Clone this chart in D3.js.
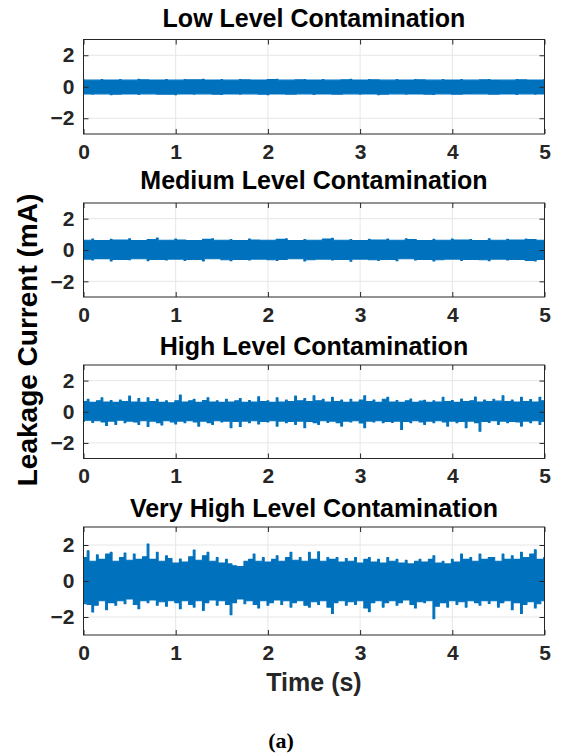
<!DOCTYPE html>
<html>
<head>
<meta charset="utf-8">
<script src="https://cdn.jsdelivr.net/npm/d3@7"></script>
<style>
  body { margin: 0; background: #fff; }
  svg { display: block; }
  text { font-family: "Liberation Sans", Arial, Helvetica, sans-serif; }
</style>
</head>
<body>
<div id="chart"></div>
<script>
// panel titles and ticks
const titles = ["Low Level Contamination", "Medium Level Contamination",
                "High Level Contamination", "Very High Level Contamination"];
const xTicks = [0, 1, 2, 3, 4, 5];
const yTicks = [-2, 0, 2];

// signal envelopes (mA), evenly spaced over 0..5 s
const lowUpper = [0.44,0.42,0.46,0.43,0.45,0.42,0.47,0.44,0.43,0.46,0.42,0.45,0.44,0.47,0.43,0.45,0.42,0.46,0.44,0.43,
  0.45,0.47,0.42,0.44,0.46,0.43,0.45,0.42,0.44,0.47,0.43,0.45,0.44,0.42,0.46,0.43,0.45,0.44,0.42,0.46,
  0.43,0.45,0.42,0.44,0.46,0.43,0.42,0.45,0.44,0.43,0.45];
const lowLower = [-0.46,-0.48,-0.45,-0.5,-0.47,-0.46,-0.49,-0.45,-0.48,-0.47,-0.5,-0.46,-0.48,-0.45,-0.47,-0.49,-0.46,-0.48,-0.45,-0.47,
  -0.5,-0.46,-0.48,-0.47,-0.45,-0.49,-0.46,-0.48,-0.47,-0.45,-0.48,-0.46,-0.5,-0.47,-0.45,-0.48,-0.46,-0.47,-0.49,-0.45,
  -0.47,-0.48,-0.46,-0.45,-0.48,-0.47,-0.46,-0.49,-0.45,-0.47,-0.46];

const medUpper = [0.62,0.7,0.6,0.68,0.64,0.72,0.6,0.66,0.76,0.62,
  0.7,0.64,0.6,0.68,0.72,0.62,0.66,0.6,0.7,0.64,
  0.62,0.68,0.72,0.6,0.66,0.62,0.7,0.74,0.62,0.66,
  0.6,0.68,0.64,0.7,0.62,0.72,0.66,0.6,0.68,0.62,
  0.7,0.64,0.66,0.6,0.72,0.62,0.68,0.64,0.7,0.66,0.62];
const medLower = [-0.58,-0.64,-0.55,-0.7,-0.6,-0.62,-0.56,-0.68,-0.6,-0.64,
  -0.58,-0.66,-0.6,-0.7,-0.56,-0.62,-0.68,-0.6,-0.64,-0.58,
  -0.62,-0.66,-0.6,-0.56,-0.7,-0.62,-0.58,-0.64,-0.6,-0.72,
  -0.58,-0.62,-0.66,-0.6,-0.68,-0.56,-0.64,-0.6,-0.7,-0.62,
  -0.58,-0.66,-0.6,-0.62,-0.68,-0.58,-0.64,-0.6,-0.66,-0.7,-0.6];

const highUpper = [0.65,0.8,0.6,0.7,0.9,0.62,0.72,0.6,0.75,0.65,
  1.0,0.62,0.85,0.6,0.9,0.65,0.8,0.6,0.7,0.58,
  0.7,1.07,0.62,0.7,0.8,0.6,0.72,0.9,0.62,0.7,
  0.6,0.8,0.62,0.7,0.85,0.6,0.72,0.62,0.96,0.65,
  0.7,0.6,0.9,0.62,0.75,0.65,1.0,0.7,0.85,0.65,
  1.03,0.7,0.8,0.62,0.92,0.65,0.75,0.6,0.8,0.62,
  0.75,1.03,0.65,0.75,0.6,0.8,0.92,0.62,0.72,0.6,
  0.7,0.81,0.6,0.68,0.74,0.6,0.7,0.62,0.92,0.65,
  0.72,0.6,0.81,0.65,0.7,0.95,0.62,0.75,0.65,0.8,
  0.68,1.03,0.65,0.75,0.62,0.92,0.65,0.78,0.62,0.92,0.7];
const highLower = [-0.62,-0.55,-0.68,-0.58,-0.65,-0.88,-0.6,-0.81,-0.55,-0.7,
  -0.6,-0.65,-0.81,-0.58,-0.95,-0.6,-0.7,-0.85,-0.58,-0.66,
  -0.78,-0.6,-0.7,-0.58,-0.65,-0.92,-0.6,-0.7,-0.81,-0.58,
  -0.66,-0.6,-1.03,-0.62,-0.95,-0.6,-0.7,-0.58,-0.78,-0.62,
  -0.66,-0.58,-0.92,-0.6,-0.7,-0.62,-0.81,-0.6,-1.03,-0.62,
  -0.7,-0.81,-0.58,-0.68,-0.6,-0.7,-0.92,-0.6,-0.66,-0.58,
  -0.72,-1.03,-0.6,-0.66,-0.58,-0.7,-0.62,-0.68,-0.6,-1.14,
  -0.62,-0.7,-0.58,-0.66,-0.81,-0.6,-0.7,-0.58,-0.66,-0.92,
  -0.6,-0.7,-0.62,-1.03,-0.6,-0.7,-1.25,-0.62,-0.68,-0.58,
  -0.81,-0.6,-0.7,-0.62,-0.66,-0.92,-0.6,-0.7,-0.58,-0.81,-0.62];

const vhighUpper = [1.3,1.68,1.1,1.45,1.2,1.5,1.6,1.1,1.3,1.55,
  1.15,1.5,1.2,1.35,2.05,1.2,1.6,1.1,1.4,1.25,
  1.0,1.22,1.05,1.35,1.72,1.15,1.4,1.6,1.1,1.3,
  1.0,1.2,0.95,0.85,0.8,1.1,1.2,1.5,1.1,1.3,
  1.05,1.2,1.4,1.1,1.3,1.6,1.15,1.3,1.1,1.6,
  1.2,1.62,1.1,1.3,1.2,1.3,1.05,1.25,1.1,1.3,
  1.0,1.2,1.3,1.05,1.2,1.0,1.3,1.1,1.2,1.0,
  1.15,0.95,1.1,1.2,1.05,1.2,1.4,1.0,1.1,0.95,
  1.2,1.05,1.5,1.2,1.3,1.1,1.5,1.2,1.3,1.3,
  1.1,1.5,1.2,1.4,1.2,1.6,1.3,1.5,1.74,1.2,1.3];
const vhighLower = [-1.26,-1.3,-1.72,-1.35,-1.1,-1.6,-1.2,-1.35,-1.1,-1.26,
  -1.0,-1.3,-1.54,-1.1,-1.2,-1.05,-1.35,-1.15,-1.4,-1.1,
  -1.2,-1.54,-1.1,-1.3,-1.45,-1.1,-1.63,-1.2,-1.05,-1.35,
  -1.1,-1.3,-1.87,-1.2,-1.0,-1.26,-1.1,-1.3,-1.5,-1.1,
  -1.35,-1.2,-1.05,-1.3,-1.1,-1.45,-1.2,-1.1,-1.35,-1.45,
  -1.15,-1.3,-1.1,-1.45,-1.8,-1.2,-1.1,-1.35,-1.15,-1.3,
  -1.1,-1.5,-1.7,-1.2,-1.1,-1.45,-1.2,-1.1,-1.35,-1.2,
  -1.05,-1.3,-1.5,-1.15,-1.2,-1.1,-2.1,-1.4,-1.2,-1.45,
  -1.1,-1.3,-1.15,-1.45,-1.1,-1.2,-1.35,-1.1,-1.25,-1.1,
  -1.45,-1.2,-1.1,-1.6,-1.2,-1.8,-1.3,-1.15,-1.5,-1.26,-1.1];

const uppers = [lowUpper, medUpper, highUpper, vhighUpper];
const lowers = [lowLower, medLower, highLower, vhighLower];

// layout
const width = 563, height = 755;
const left = 83.5, right = 544.5;
const boxes = [[39.5, 134], [203, 297], [365, 458.5], [527, 635]];
const titleY = [27, 189, 355, 517];
const blue = "#0072bd", ink = "#262626";

const svg = d3.select("#chart").append("svg")
    .attr("width", width)
    .attr("height", height);

const x = d3.scaleLinear().domain([0, 5]).range([left, right]);

// outline of the noisy band: each sample is a thin spike standing on the
// lower of its neighbours, so the edge stays ragged
function bandOutline(up, lo, y) {
  const n = up.length, w = 0.9;
  const px = up.map((d, i) => x(i * 5 / (n - 1)));
  const nb = (arr, i, j, f) => f(arr[Math.max(0, Math.min(n - 1, i))], arr[Math.max(0, Math.min(n - 1, j))]);
  const pts = [];
  up.forEach((d, i) => {
    pts.push([px[i] - w, y(nb(up, i - 1, i, Math.min))], [px[i] - w, y(d)],
             [px[i] + w, y(d)], [px[i] + w, y(nb(up, i, i + 1, Math.min))]);
  });
  for (let i = n - 1; i >= 0; i--) {
    pts.push([px[i] + w, y(nb(lo, i, i + 1, Math.max))], [px[i] + w, y(lo[i])],
             [px[i] - w, y(lo[i])], [px[i] - w, y(nb(lo, i - 1, i, Math.max))]);
  }
  return d3.line()(pts) + "Z";
}

boxes.forEach(function(b, k) {
  const y = d3.scaleLinear().domain([-3, 3]).range([b[1], b[0]]);
  const g = svg.append("g");

  // grid
  g.append("g").selectAll("line")
    .data(xTicks.slice(1, -1))
    .join("line")
      .attr("x1", d => x(d)).attr("x2", d => x(d))
      .attr("y1", b[0]).attr("y2", b[1])
      .attr("stroke", "#e6e6e6");
  g.append("g").selectAll("line")
    .data(yTicks)
    .join("line")
      .attr("x1", left).attr("x2", right)
      .attr("y1", d => y(d)).attr("y2", d => y(d))
      .attr("stroke", "#e6e6e6");

  // signal band
  const clipId = "clip" + k;
  svg.append("clipPath").attr("id", clipId)
    .append("rect").attr("x", left).attr("y", b[0])
    .attr("width", right - left).attr("height", b[1] - b[0]);

  g.append("path")
    .attr("clip-path", `url(#${clipId})`)
    .attr("fill", blue)
    .attr("stroke", blue)
    .attr("stroke-width", 1.1)
    .attr("stroke-linejoin", "round")
    .attr("d", bandOutline(uppers[k], lowers[k], y));

  // axes, ticks pointing inwards
  const fmt = d3.format("d");
  g.append("g")
    .attr("transform", `translate(0,${b[1]})`)
    .call(d3.axisBottom(x).tickValues(xTicks).tickSize(-5).tickPadding(10).tickFormat(fmt));
  g.append("g")
    .attr("transform", `translate(0,${b[0]})`)
    .call(d3.axisTop(x).tickValues(xTicks).tickSize(-5).tickFormat(""));
  g.append("g")
    .attr("transform", `translate(${left},0)`)
    .call(d3.axisLeft(y).tickValues(yTicks).tickSize(-5).tickPadding(9).tickFormat(fmt));
  g.append("g")
    .attr("transform", `translate(${right},0)`)
    .call(d3.axisRight(y).tickValues(yTicks).tickSize(-5).tickFormat(""));

  g.selectAll(".domain").remove();
  g.selectAll(".tick line").attr("stroke", ink);
  g.selectAll(".tick text")
    .attr("fill", ink)
    .style("font-size", "21px")
    .style("font-weight", "bold");

  g.append("rect")
    .attr("x", left).attr("y", b[0])
    .attr("width", right - left).attr("height", b[1] - b[0])
    .attr("fill", "none")
    .attr("stroke", ink)
    .attr("stroke-width", 1);

  // title
  g.append("text")
    .attr("x", (left + right) / 2)
    .attr("y", titleY[k])
    .attr("text-anchor", "middle")
    .style("font-size", "25px")
    .style("font-weight", "bold")
    .attr("fill", "#000")
    .text(titles[k]);
});

// axis labels
svg.append("text")
  .attr("transform", "translate(27,340) rotate(-90)")
  .attr("text-anchor", "middle")
  .attr("dominant-baseline", "central")
  .style("font-size", "28px")
  .style("font-weight", "bold")
  .attr("fill", "#000")
  .text("Leakage Current (mA)");

svg.append("text")
  .attr("x", (left + right) / 2)
  .attr("y", 691)
  .attr("text-anchor", "middle")
  .style("font-size", "25px")
  .style("font-weight", "bold")
  .attr("fill", ink)
  .text("Time (s)");

svg.append("text")
  .attr("x", 281)
  .attr("y", 748)
  .attr("text-anchor", "middle")
  .style("font-family", "'Liberation Serif', 'Times New Roman', serif")
  .style("font-size", "22px")
  .style("font-weight", "bold")
  .attr("fill", "#000")
  .text("(a)");
</script>
</body>
</html>
